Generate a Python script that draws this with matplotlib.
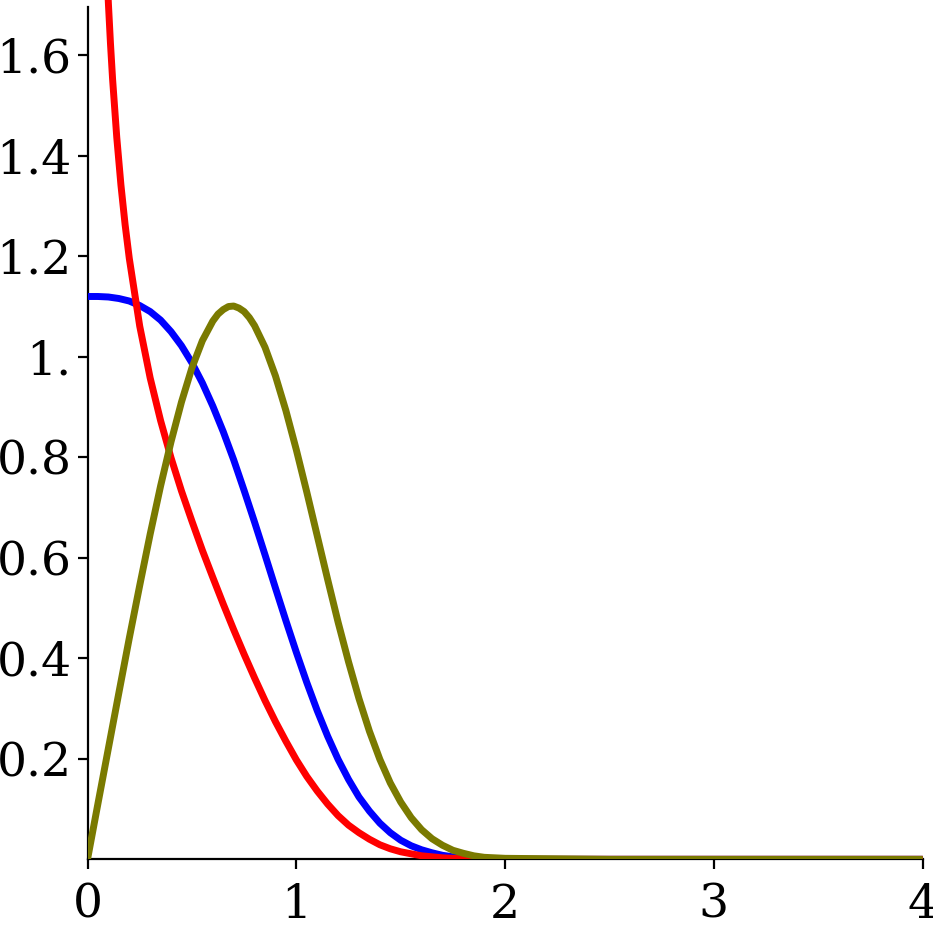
#!/usr/bin/env python3
"""
Three curves on a shared x axis, redrawn with matplotlib.
"""
import matplotlib
matplotlib.use("Agg")
import matplotlib.pyplot as plt

# values
x_blue = [0.00, 0.05, 0.10, 0.15, 0.20, 0.25, 0.30, 0.35, 0.40, 0.45,
          0.50, 0.55, 0.60, 0.65, 0.70, 0.75, 0.80, 0.85, 0.90, 0.95,
          1.00, 1.05, 1.10, 1.15, 1.20, 1.25, 1.30, 1.35, 1.40, 1.45,
          1.50, 1.55, 1.60, 1.65, 1.70, 1.75, 1.80, 1.85, 1.90, 1.95,
          2.00, 2.50, 3.00, 3.50, 4.00]
y_blue = [1.120, 1.120, 1.119, 1.116, 1.111, 1.102, 1.090, 1.073, 1.050, 1.022,
          0.988, 0.948, 0.902, 0.851, 0.795, 0.734, 0.671, 0.606, 0.540, 0.475,
          0.412, 0.352, 0.296, 0.245, 0.199, 0.159, 0.124, 0.096, 0.072, 0.053,
          0.038, 0.027, 0.019, 0.013, 0.008, 0.005, 0.003, 0.002, 0.001, 0.001,
          0.000, 0.000, 0.000, 0.000, 0.000]

x_red = [0.08, 0.09, 0.10, 0.11, 0.12, 0.14, 0.16, 0.18, 0.20, 0.25,
         0.30, 0.35, 0.40, 0.45, 0.50, 0.55, 0.60, 0.65, 0.70, 0.75,
         0.80, 0.85, 0.90, 0.95, 1.00, 1.05, 1.10, 1.15, 1.20, 1.25,
         1.30, 1.35, 1.40, 1.45, 1.50, 1.55, 1.60, 1.65, 1.70, 1.75,
         1.80, 1.85, 1.90, 1.95, 2.00, 2.50, 3.00, 3.50, 4.00]
y_red = [1.905, 1.795, 1.703, 1.623, 1.553, 1.437, 1.342, 1.263, 1.196, 1.061,
         0.958, 0.873, 0.799, 0.733, 0.673, 0.615, 0.561, 0.508, 0.457, 0.408,
         0.361, 0.316, 0.274, 0.235, 0.198, 0.165, 0.136, 0.110, 0.087, 0.068,
         0.053, 0.040, 0.029, 0.021, 0.015, 0.011, 0.007, 0.005, 0.003, 0.002,
         0.001, 0.001, 0.000, 0.000, 0.000, 0.000, 0.000, 0.000, 0.000]

x_olive = [0.00, 0.05, 0.10, 0.15, 0.20, 0.25, 0.30, 0.35, 0.40, 0.45,
           0.50, 0.55, 0.60, 0.625, 0.65, 0.675, 0.70, 0.725, 0.75, 0.775,
           0.80, 0.85, 0.90, 0.95, 1.00, 1.05, 1.10, 1.15, 1.20, 1.25,
           1.30, 1.35, 1.40, 1.45, 1.50, 1.55, 1.60, 1.65, 1.70, 1.75,
           1.80, 1.85, 1.90, 1.95, 2.00, 2.50, 3.00, 3.50, 4.00]
y_olive = [0.000, 0.111, 0.221, 0.331, 0.440, 0.545, 0.647, 0.743, 0.831, 0.910,
           0.978, 1.032, 1.071, 1.085, 1.094, 1.100, 1.101, 1.097, 1.090, 1.078,
           1.062, 1.019, 0.962, 0.893, 0.815, 0.731, 0.644, 0.557, 0.472, 0.393,
           0.320, 0.255, 0.199, 0.152, 0.114, 0.083, 0.059, 0.041, 0.028, 0.018,
           0.012, 0.007, 0.004, 0.003, 0.002, 0.000, 0.000, 0.000, 0.000]

x_ticks = [0, 1, 2, 3, 4]
y_ticks = [0.2, 0.4, 0.6, 0.8, 1.0, 1.2, 1.4, 1.6]
y_tick_labels = ["0.2", "0.4", "0.6", "0.8", "1.", "1.2", "1.4", "1.6"]

plt.rcParams['font.family'] = ['DejaVu Serif']

fig = plt.figure(figsize=(9.33, 9.26), dpi=100)
ax = fig.add_axes([0.0938, 0.072, 0.8952, 0.928])

# blue under red, olive on top (as in the picture)
ax.plot(x_blue, y_blue, color='#0000FF', lw=5.0, zorder=3, solid_capstyle='butt')
ax.plot(x_red, y_red, color='#FF0000', lw=5.0, zorder=3, solid_capstyle='butt')
ax.plot(x_olive, y_olive, color='#7A7A00', lw=5.0, zorder=3, solid_capstyle='butt')

ax.set_xlim(0, 4)
ax.set_ylim(0, 1.71)

for side in ('top', 'right'):
    ax.spines[side].set_visible(False)
for side in ('left', 'bottom'):
    ax.spines[side].set_linewidth(1.6)
    ax.spines[side].set_color('black')
ax.spines['left'].set_bounds(0, 1.697)

ax.set_xticks(x_ticks)
ax.set_xticklabels([str(t) for t in x_ticks])
ax.set_yticks(y_ticks)
ax.set_yticklabels(y_tick_labels)
ax.tick_params(axis='both', direction='out', length=7.5, width=1.6, labelsize=34)
ax.tick_params(axis='x', pad=9)
ax.tick_params(axis='y', pad=4)

fig.savefig("out.png", dpi=100)
